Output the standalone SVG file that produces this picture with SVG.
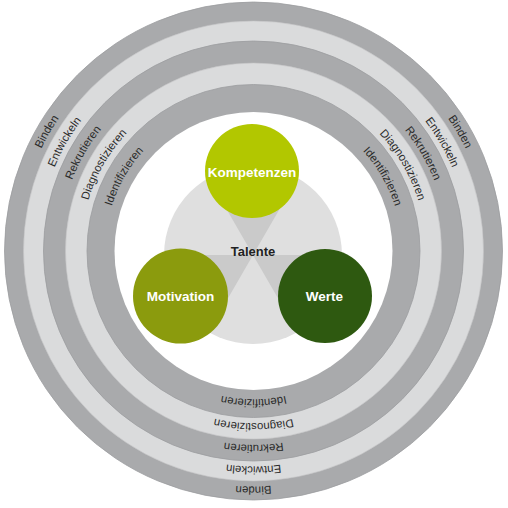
<svg xmlns="http://www.w3.org/2000/svg" width="508" height="508" viewBox="0 0 508 508">
  <style>
    .dark { fill: #a9aaac; stroke: #9c9d9f; stroke-width: 0.8; }
    .light { fill: #dadbdc; stroke: #c4c5c6; stroke-width: 0.6; }
    .ring-label { font-family: "Liberation Sans", Arial, sans-serif; font-size: 11.4px; fill: #2a2a2a; }
    .node-label { font-family: "Liberation Sans", Arial, sans-serif; font-size: 13.5px; font-weight: bold; fill: #ffffff; text-anchor: middle; }
    .center-label { font-family: "Liberation Sans", Arial, sans-serif; font-size: 13px; font-weight: bold; fill: #222222; text-anchor: middle; }
    .wedge-light { fill: #dfdfdf; }
    .wedge-dark { fill: #cacaca; }
  </style>
  <defs>
    <path id="p-binden" d="M457.45 368.75 A235.5 235.5 0 0 1 49.55 133.25 A235.5 235.5 0 0 1 457.45 368.75"/>
    <path id="p-entwickeln" d="M440.56 359 A216 216 0 0 1 66.44 143 A216 216 0 0 1 440.56 359"/>
    <path id="p-rekrutieren" d="M422.37 348.5 A195 195 0 0 1 84.63 153.5 A195 195 0 0 1 422.37 348.5"/>
    <path id="p-diagnostizieren" d="M403.32 337.5 A173 173 0 0 1 103.68 164.5 A173 173 0 0 1 403.32 337.5"/>
    <path id="p-identifizieren" d="M382.32 325.375 A148.75 148.75 0 0 1 124.68 176.625 A148.75 148.75 0 0 1 382.32 325.375"/>
  </defs>

  <rect x="0" y="0" width="508" height="508" fill="#ffffff"/>

  <g id="rings">
    <g id="ring-binden">
      <circle class="dark" cx="253.5" cy="251" r="249"/>
    </g>
    <g id="ring-entwickeln">
      <circle class="light" cx="253.5" cy="251" r="230"/>
    </g>
    <g id="ring-rekrutieren">
      <circle class="dark" cx="253.5" cy="251" r="210"/>
    </g>
    <g id="ring-diagnostizieren">
      <circle class="light" cx="253.5" cy="251" r="188"/>
    </g>
    <g id="ring-identifizieren">
      <circle class="dark" cx="253.5" cy="251" r="166.5"/>
    </g>
    <circle cx="253.5" cy="251" r="139" fill="#ffffff"/>

    <g id="ring-labels">
      <text class="ring-label" text-anchor="middle">
        <textPath href="#p-binden" startOffset="16.667%">Binden</textPath>
      </text>
      <text class="ring-label" text-anchor="middle">
        <textPath href="#p-binden" startOffset="50%">Binden</textPath>
      </text>
      <text class="ring-label" text-anchor="middle">
        <textPath href="#p-binden" startOffset="83.333%">Binden</textPath>
      </text>

      <text class="ring-label" text-anchor="middle">
        <textPath href="#p-entwickeln" startOffset="16.667%">Entwickeln</textPath>
      </text>
      <text class="ring-label" text-anchor="middle">
        <textPath href="#p-entwickeln" startOffset="50%">Entwickeln</textPath>
      </text>
      <text class="ring-label" text-anchor="middle">
        <textPath href="#p-entwickeln" startOffset="83.333%">Entwickeln</textPath>
      </text>

      <text class="ring-label" text-anchor="middle">
        <textPath href="#p-rekrutieren" startOffset="16.667%">Rekrutieren</textPath>
      </text>
      <text class="ring-label" text-anchor="middle">
        <textPath href="#p-rekrutieren" startOffset="50%">Rekrutieren</textPath>
      </text>
      <text class="ring-label" text-anchor="middle">
        <textPath href="#p-rekrutieren" startOffset="83.333%">Rekrutieren</textPath>
      </text>

      <text class="ring-label" text-anchor="middle">
        <textPath href="#p-diagnostizieren" startOffset="16.667%">Diagnostizieren</textPath>
      </text>
      <text class="ring-label" text-anchor="middle">
        <textPath href="#p-diagnostizieren" startOffset="50%">Diagnostizieren</textPath>
      </text>
      <text class="ring-label" text-anchor="middle">
        <textPath href="#p-diagnostizieren" startOffset="83.333%">Diagnostizieren</textPath>
      </text>

      <text class="ring-label" text-anchor="middle">
        <textPath href="#p-identifizieren" startOffset="16.667%">Identifizieren</textPath>
      </text>
      <text class="ring-label" text-anchor="middle">
        <textPath href="#p-identifizieren" startOffset="50%">Identifizieren</textPath>
      </text>
      <text class="ring-label" text-anchor="middle">
        <textPath href="#p-identifizieren" startOffset="83.333%">Identifizieren</textPath>
      </text>
    </g>
  </g>

  <g id="connectors"></g>

  <g id="talente">
    <circle class="wedge-light" cx="253" cy="255" r="89"/>
    <path class="wedge-dark" d="M253 255 L208.5 177.92 A89 89 0 0 1 297.5 177.92 Z"/>
    <path class="wedge-dark" d="M253 255 L208.5 332.08 A89 89 0 0 1 164 255 Z"/>
    <path class="wedge-dark" d="M253 255 L342 255 A89 89 0 0 1 297.5 332.08 Z"/>
    <text class="center-label" x="253" y="255.7">Talente</text>
  </g>

  <g id="kompetenzen">
    <circle cx="252" cy="171" r="47" fill="#b2c700"/>
    <text class="node-label" x="252" y="176.5">Kompetenzen</text>
  </g>

  <g id="motivation">
    <circle cx="180.5" cy="296" r="47.5" fill="#8b9b0d"/>
    <text class="node-label" x="180.5" y="300.5">Motivation</text>
  </g>

  <g id="werte">
    <circle cx="325" cy="296" r="47" fill="#2e5910"/>
    <text class="node-label" x="324.5" y="300.5">Werte</text>
  </g>
</svg>
